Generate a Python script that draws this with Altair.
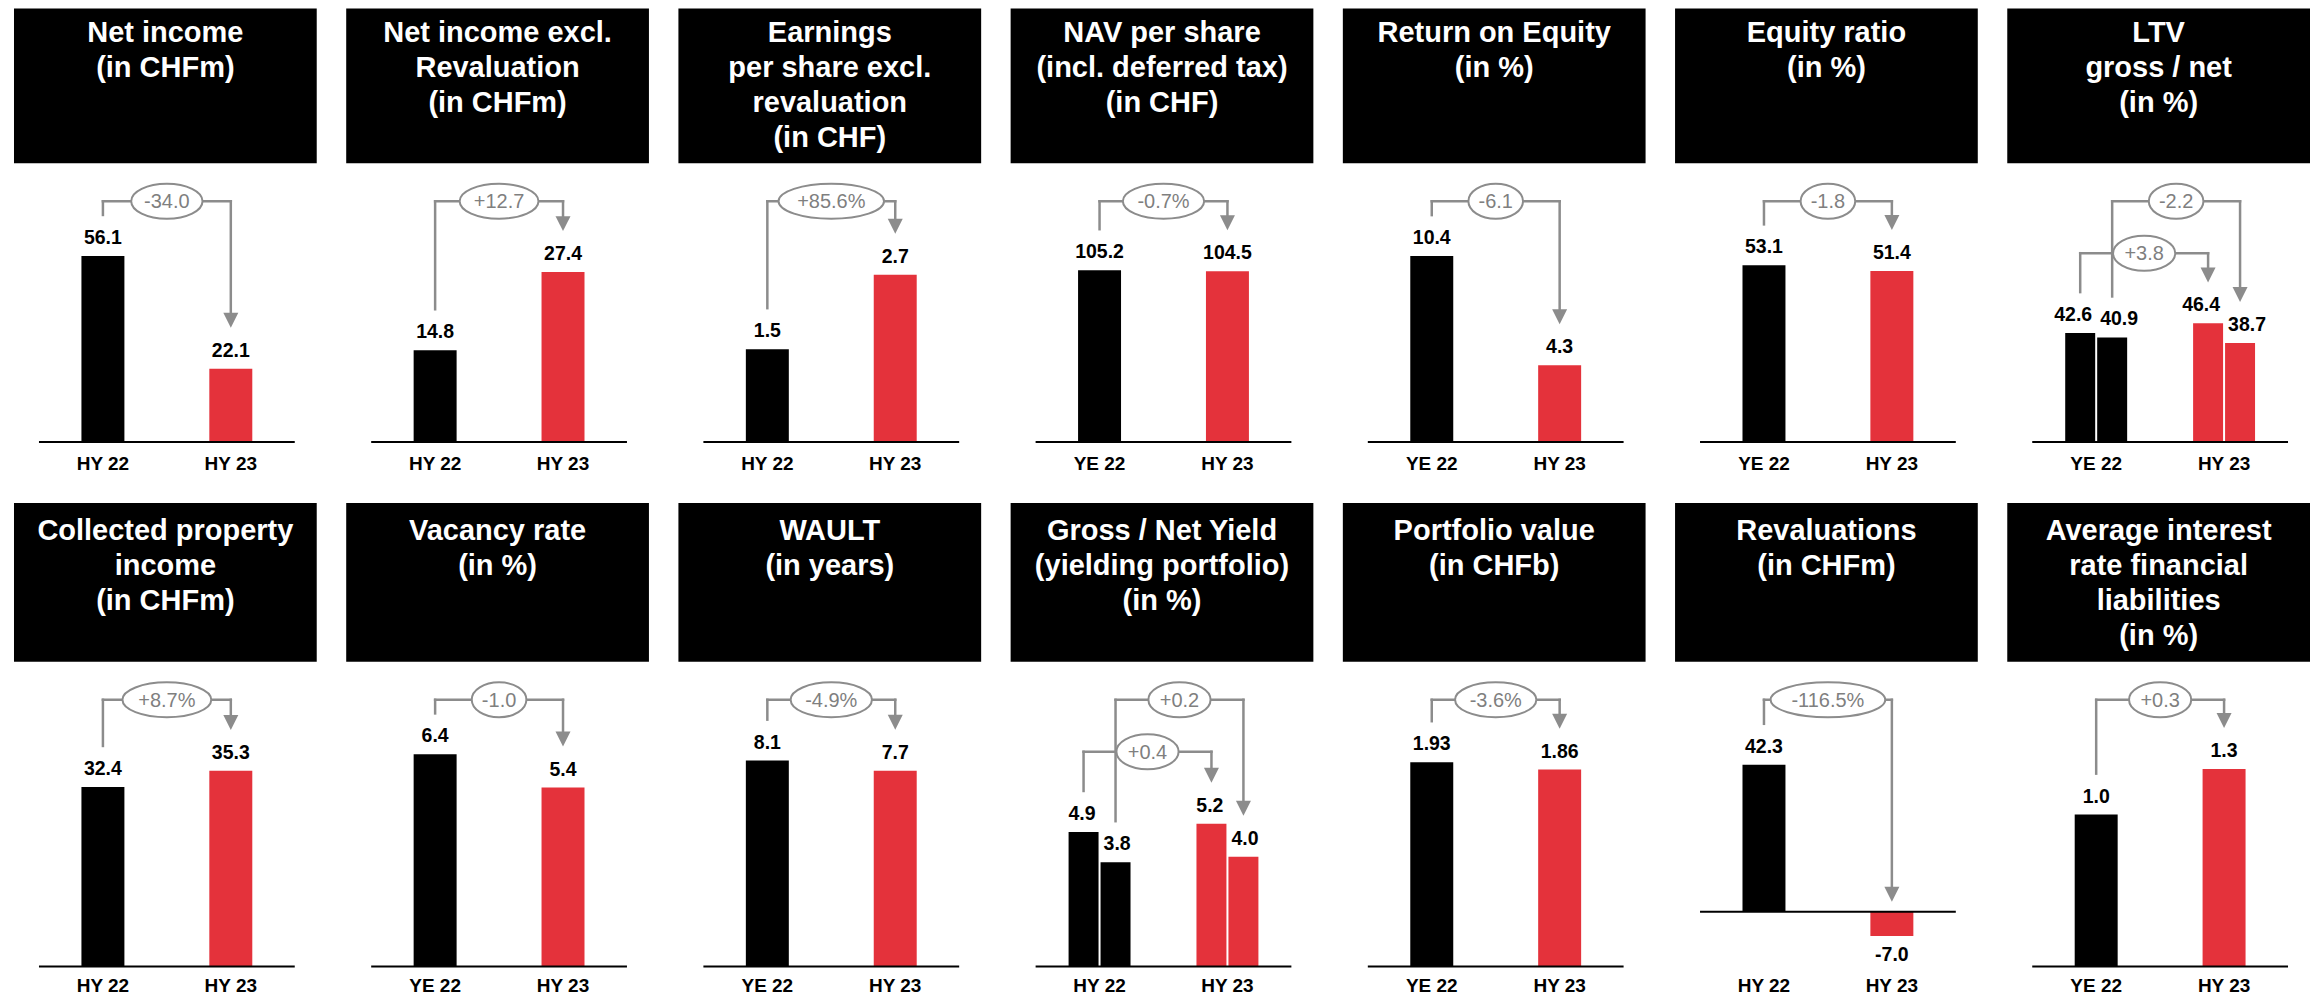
import altair as alt
import pandas as pd

# ---------------- data ----------------
TITLES = [
    ["Net income", "(in CHFm)"],
    ["Net income excl.", "Revaluation", "(in CHFm)"],
    ["Earnings", "per share excl.", "revaluation", "(in CHF)"],
    ["NAV per share", "(incl. deferred tax)", "(in CHF)"],
    ["Return on Equity", "(in %)"],
    ["Equity ratio", "(in %)"],
    ["LTV", "gross / net", "(in %)"],
    ["Collected property", "income", "(in CHFm)"],
    ["Vacancy rate", "(in %)"],
    ["WAULT", "(in years)"],
    ["Gross / Net Yield", "(yielding portfolio)", "(in %)"],
    ["Portfolio value", "(in CHFb)"],
    ["Revaluations", "(in CHFm)"],
    ["Average interest", "rate financial", "liabilities", "(in %)"],
]
PREV_PERIOD = ["HY 22", "HY 22", "HY 22", "YE 22", "YE 22", "YE 22", "YE 22",
               "HY 22", "YE 22", "YE 22", "HY 22", "YE 22", "HY 22", "YE 22"]
CURR_PERIOD = ["HY 23"] * 14
PREV_VALUE = [56.1, 14.8, 1.5, 105.2, 10.4, 53.1, 42.6,
              32.4, 6.4, 8.1, 4.9, 1.93, 42.3, 1.0]
CURR_VALUE = [22.1, 27.4, 2.7, 104.5, 4.3, 51.4, 46.4,
              35.3, 5.4, 7.7, 5.2, 1.86, -7.0, 1.3]
CHANGE = ["-34.0", "+12.7", "+85.6%", "-0.7%", "-6.1", "-1.8", "+3.8",
          "+8.7%", "-1.0", "-4.9%", "+0.4", "-3.6%", "-116.5%", "+0.3"]
# second series (net) for the two grouped panels
PREV_VALUE_2 = [None, None, None, None, None, None, 40.9,
                None, None, None, 3.8, None, None, None]
CURR_VALUE_2 = [None, None, None, None, None, None, 38.7,
                None, None, None, 4.0, None, None, None]
CHANGE_2 = [None, None, None, None, None, None, "-2.2",
            None, None, None, "+0.2", None, None, None]
DECIMALS = [1, 1, 1, 1, 1, 1, 1, 1, 1, 1, 1, 2, 1, 1]
Y_MAX = [130.7, 69.9, 7.0, 265.4, 24.25, 130.3, 169.5,
         83.6, 13.98, 18.23, 16.87, 4.377, 117.7, 3.05]
Y_MIN = [0, 0, 0, 0, 0, 0, 0, 0, 0, 0, 0, 0, -15.83, 0]

# ---------------- style ----------------
FONT = "Liberation Sans"
BLACK = "#000000"
RED = "#E4323B"
GRAY = "#8C8C8C"
GRAY_TEXT = "#7F7F7F"
W = 256
BOX_L, BOX_R = -25, 278
ROW_H = [434, 464]
BOX_H = [155, 159]
TITLE_Y = [34, 37]
LINE_H = 35
LEVEL = [193, 197]
INNER_DROP = 52
LABEL_PAD = [12, 10]
DELTA_FS = 20
HEAD = "M-7.5,-15 L7.5,-15 L0,0 Z"
CHAR_W = {".": 0.278, "+": 0.584, "-": 0.333, "%": 0.889}


def ellipse_path(label):
    tw = sum(CHAR_W.get(ch, 0.556) for ch in label) * DELTA_FS
    a = (1.5 * tw + 3) / 2
    b = 17.5
    k = 0.5523
    return (f"M{-a:.2f},0 C{-a:.2f},{-k*b:.2f} {-k*a:.2f},{-b:.2f} 0,{-b:.2f} "
            f"C{k*a:.2f},{-b:.2f} {a:.2f},{-k*b:.2f} {a:.2f},0 "
            f"C{a:.2f},{k*b:.2f} {k*a:.2f},{b:.2f} 0,{b:.2f} "
            f"C{-k*a:.2f},{b:.2f} {-a:.2f},{k*b:.2f} {-a:.2f},0 Z")


def panel(i):
    row = i // 7
    H = ROW_H[row]
    p, c = PREV_PERIOD[i], CURR_PERIOD[i]
    d = DECIMALS[i]
    grouped = PREV_VALUE_2[i] is not None

    axis_kw = dict(domain=False, ticks=False, tickSize=0, grid=False, title=None,
                   labelPadding=LABEL_PAD[row], labelFontSize=19, labelFontWeight="bold",
                   labelColor=BLACK, labelFont=FONT, labelAngle=0, labelOverlap=False)
    if grouped:
        slots = ["pad a", f"{p} gross", f"{p} net", "gap a", "gap b",
                 f"{c} gross", f"{c} net", "pad b"]
        bars = pd.DataFrame({
            "slot": [f"{p} gross", f"{p} net", f"{c} gross", f"{c} net"],
            "value": [PREV_VALUE[i], PREV_VALUE_2[i], CURR_VALUE[i], CURR_VALUE_2[i]],
            "period": [p, p, c, c],
            "side": ["first", "second", "first", "second"],
        })
        x_scale = alt.Scale(domain=slots, paddingInner=0.0625, paddingOuter=0.03125)
        axis = alt.Axis(labelOffset=-16,
                        labelExpr="indexof(datum.value, ' net') > 0 ? replace(datum.value, ' net', '') : ''",
                        **axis_kw)
    else:
        slots = [p, c]
        bars = pd.DataFrame({
            "slot": [p, c],
            "value": [PREV_VALUE[i], CURR_VALUE[i]],
            "period": [p, c],
            "side": ["single", "single"],
        })
        x_scale = alt.Scale(domain=slots, paddingInner=0.664, paddingOuter=0.332)
        axis = alt.Axis(**axis_kw)
    bars["label"] = [f"{v:.{d}f}" for v in bars["value"]]
    y_scale = alt.Scale(domain=[Y_MIN[i], Y_MAX[i]], nice=False, zero=False)

    def xs(field, **kw):
        return alt.X(f"{field}:N", scale=x_scale, axis=axis, title=None, **kw)

    def ys(field):
        return alt.Y(f"{field}:Q", scale=y_scale, axis=None, title=None)

    one = pd.DataFrame({"zero": [0]})
    layers = []

    layers.append(alt.Chart(bars).mark_bar().encode(
        x=xs("slot"), y=ys("value"),
        color=alt.Color("period:N", scale=alt.Scale(domain=[p, c], range=[BLACK, RED]), legend=None),
    ))
    layers.append(alt.Chart(one).mark_rule(color=BLACK, strokeWidth=2).encode(y=ys("zero")))

    txt = dict(font=FONT, fontSize=19.5, fontWeight="bold", color=BLACK)
    if grouped:
        layers.append(alt.Chart(bars[bars.side == "first"]).mark_text(
            align="right", baseline="alphabetic", dy=-12, dx=-3, **txt).encode(
            x=xs("slot", bandPosition=1), y=ys("value"), text="label:N"))
        layers.append(alt.Chart(bars[bars.side == "second"]).mark_text(
            align="left", baseline="alphabetic", dy=-12, dx=3, **txt).encode(
            x=xs("slot", bandPosition=0), y=ys("value"), text="label:N"))
    else:
        pos = bars[bars.value >= 0]
        neg = bars[bars.value < 0]
        layers.append(alt.Chart(pos).mark_text(
            align="center", baseline="alphabetic", dy=-12, **txt).encode(
            x=xs("slot", bandPosition=0.5), y=ys("value"), text="label:N"))
        if len(neg):
            layers.append(alt.Chart(neg).mark_text(
                align="center", baseline="top", dy=10.5, **txt).encode(
                x=xs("slot", bandPosition=0.5), y=ys("value"), text="label:N"))

    # title box
    layers.append(alt.Chart(one).mark_rect(color=BLACK).encode(
        x=alt.value(BOX_L), x2=alt.value(BOX_R), y=alt.value(0), y2=alt.value(BOX_H[row])))
    for k, line in enumerate(TITLES[i]):
        layers.append(alt.Chart(one).mark_text(
            text=line, align="center", baseline="alphabetic",
            font=FONT, fontSize=29, fontWeight="bold", color="white").encode(
            x=alt.value((BOX_L + BOX_R) / 2), y=alt.value(TITLE_Y[row] + k * LINE_H)))

    # change arrows
    if grouped:
        arrows = [
            (f"{p} gross", f"{c} gross", PREV_VALUE[i], CURR_VALUE[i], CHANGE[i],
             LEVEL[row] + INNER_DROP, "gap a"),
            (f"{p} net", f"{c} net", PREV_VALUE_2[i], CURR_VALUE_2[i], CHANGE_2[i],
             LEVEL[row], "gap b"),
        ]
    else:
        arrows = [(p, c, PREV_VALUE[i], CURR_VALUE[i], CHANGE[i], LEVEL[row], None)]

    lines, heads, ells, labels = [], [], [], []
    for frm, to, vf, vt, lab, level, lx in arrows:
        df = pd.DataFrame({"from": [frm], "to": [to], "v_from": [vf], "v_to": [max(vt, 0)],
                           "label": [lab], "path": [ellipse_path(lab)], "lx": [lx or ""]})
        tip = -41 if vt > 0 else -10
        base = alt.Chart(df)
        ln = dict(color=GRAY, strokeWidth=2.5, strokeCap="square")
        lines.append(base.mark_rule(**ln).encode(
            x=xs("from", bandPosition=0.5), x2=alt.X2(field="to", bandPosition=0.5),
            y=alt.value(level)))
        lines.append(base.mark_rule(yOffset=-41, **ln).encode(
            x=xs("from", bandPosition=0.5), y=ys("v_from"), y2=alt.value(level)))
        lines.append(base.mark_rule(yOffset=tip - 12, **ln).encode(
            x=xs("to", bandPosition=0.5), y=ys("v_to"), y2=alt.value(level)))
        heads.append(base.mark_point(shape=HEAD, size=4, filled=True, fill=GRAY, opacity=1,
                                     strokeWidth=0, yOffset=tip).encode(
            x=xs("to", bandPosition=0.5), y=ys("v_to")))
        lx_enc = xs("lx", bandPosition=0.5) if lx else alt.value(W / 2)
        ells.append(base.mark_point(filled=True, fill="white", stroke=GRAY, strokeWidth=2,
                                    size=4, opacity=1, fillOpacity=1, strokeOpacity=1).encode(
            x=lx_enc, y=alt.value(level), shape=alt.Shape("path:N", scale=None, legend=None)))
        labels.append(base.mark_text(font=FONT, fontSize=DELTA_FS, color=GRAY_TEXT, align="center",
                                     baseline="middle", dy=1).encode(
            x=lx_enc, y=alt.value(level), text="label:N"))
    layers += lines + heads + ells + labels

    return alt.layer(*layers).properties(width=W, height=H)


panels = [panel(i) for i in range(14)]

chart = alt.concat(
    *panels, columns=7, spacing={"row": 61, "column": 76.5}, bounds="flush", align="each"
).properties(
    padding={"left": 6, "top": 0, "right": 0, "bottom": 0}
).configure_view(strokeWidth=0)

chart.save("out.html", embed_options={"renderer": "svg", "actions": False})
